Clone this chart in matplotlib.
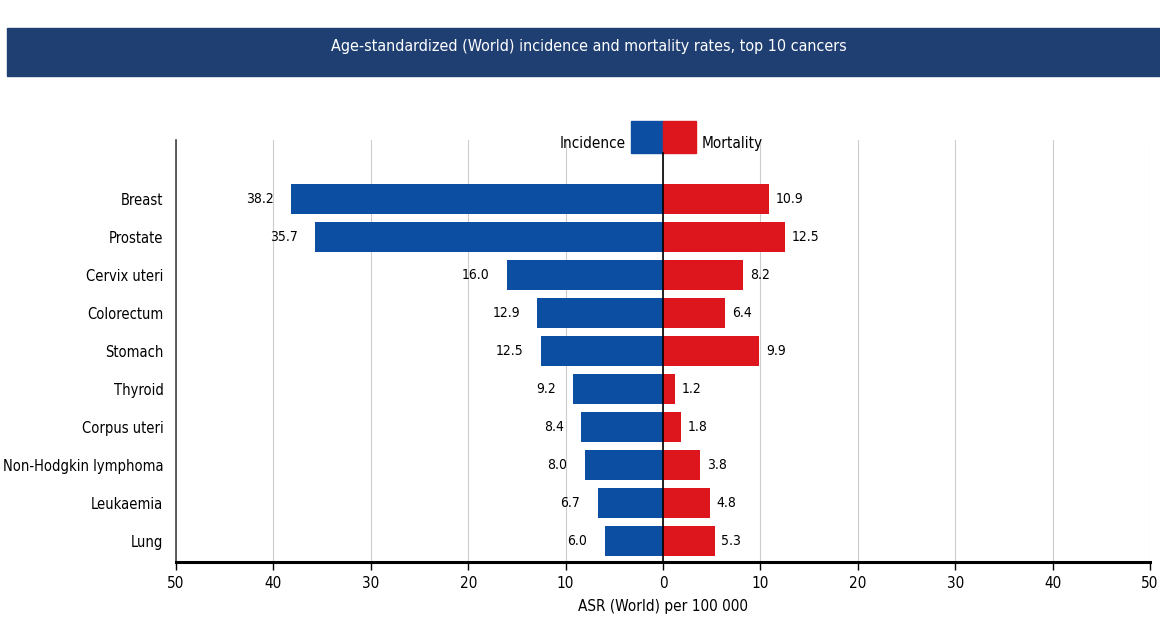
import matplotlib.pyplot as plt
from matplotlib.patches import Rectangle
import numpy as np

plt.rcParams["font.family"] = ["DejaVu Sans"]
plt.rcParams["font.stretch"] = "condensed"

# Daten
cancers = ["Breast", "Prostate", "Cervix uteri", "Colorectum", "Stomach",
           "Thyroid", "Corpus uteri", "Non-Hodgkin lymphoma", "Leukaemia", "Lung"]
incidence = [38.2, 35.7, 16.0, 12.9, 12.5, 9.2, 8.4, 8.0, 6.7, 6.0]
mortality = [10.9, 12.5, 8.2, 6.4, 9.9, 1.2, 1.8, 3.8, 4.8, 5.3]
ticks = [-50, -40, -30, -20, -10, 0, 10, 20, 30, 40, 50]
tick_labels = [str(abs(t)) for t in ticks]

blue = "#0b4ea2"
red = "#dc161c"

fig = plt.figure(figsize=(11.6, 6.21), dpi=100)
ax = fig.add_axes([176 / 1160, 1 - 562 / 621, 974 / 1160, 422 / 621])

# Titelbalken
fig.patches.append(Rectangle((7 / 1160, 1 - 76 / 621), 1153 / 1160, 48 / 621,
                             transform=fig.transFigure, color="#1f3f73", zorder=0))
fig.text(589 / 1160, 1 - 47 / 621, "Age-standardized (World) incidence and mortality rates, top 10 cancers",
         color="white", fontsize=11.5, ha="center", va="center")

y = np.arange(len(cancers))
ax.barh(y, [-v for v in incidence], height=0.79, color=blue, zorder=3)
ax.barh(y, mortality, height=0.79, color=red, zorder=3)

for yi, v in zip(y, incidence):
    ax.text(-v - 1.8, yi, f"{v:.1f}", ha="right", va="center", fontsize=10)
for yi, v in zip(y, mortality):
    ax.text(v + 0.7, yi, f"{v:.1f}", ha="left", va="center", fontsize=10)

ax.set_xlim(-50, 50)
ax.set_ylim(9.55, -1.55)
ax.set_xticks(ticks)
ax.set_xticklabels(tick_labels, fontsize=11)
ax.set_yticks(y)
ax.set_yticklabels(cancers, fontsize=10.5)
ax.tick_params(axis="y", length=0, pad=9)
ax.tick_params(axis="x", length=6, width=1, direction="out", pad=4)
ax.set_xlabel("ASR (World) per 100 000", fontsize=11, labelpad=6)

ax.grid(True, axis="x", color="#cccccc", linewidth=0.8, zorder=0)
for s in ["top", "right"]:
    ax.spines[s].set_visible(False)
ax.spines["left"].set_color("#444444")
ax.spines["left"].set_linewidth(1.2)
ax.spines["bottom"].set_linewidth(2.2)

# Legende oben in der Mitte
ax.add_patch(Rectangle((-3.3, -2.05), 3.3, 0.84, color=blue, clip_on=False, zorder=4))
ax.add_patch(Rectangle((0, -2.05), 3.4, 0.84, color=red, clip_on=False, zorder=4))
ax.text(-3.8, -1.45, "Incidence", ha="right", va="center", fontsize=11)
ax.text(4.0, -1.45, "Mortality", ha="left", va="center", fontsize=11)
ax.plot([0, 0], [-1.21, 9.55], color="black", linewidth=1.2, zorder=5, clip_on=False)

fig.savefig("out.png", dpi=100)
